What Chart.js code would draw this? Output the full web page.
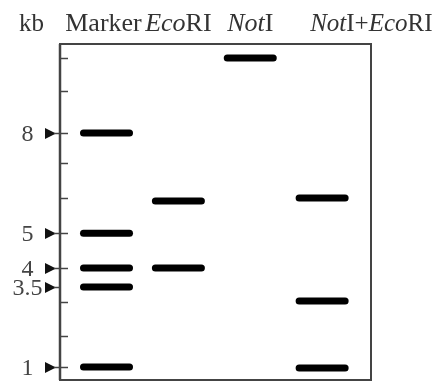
<!DOCTYPE html>
<html>
<head>
<meta charset="utf-8">
<script src="https://cdn.jsdelivr.net/npm/chart.js@4"></script>
<style>
  html, body { margin: 0; padding: 0; background: #fff; overflow: hidden; }
  #wrap { position: relative; width: 437px; height: 382px; }
</style>
</head>
<body>
<div id="wrap"><canvas id="gel"></canvas></div>
<script>
// lanes of the gel, left to right
const lanes = ['Marker', 'EcoRI', 'NotI', 'NotI+EcoRI'];
// band migration per lane (0 = top of gel, 100 = bottom)
const markerBands = [26.5, 56.3, 66.7, 72.3, 96.1];
const ecoriBands = [46.7, 66.7];
const notiBands = [4.2];
const notiEcoriBands = [45.8, 76.5, 96.4];
// ladder sizes in kb, same order as markerBands
const markerSizes = ['8', '5', '4', '3.5', '1'];
// ruler marks on the left edge of the gel
const rulerTicks = [4.2, 14.0, 26.5, 35.4, 45.8, 56.3, 66.7, 76.8, 86.9, 96.1];

const allBands = [markerBands, ecoriBands, notiBands, notiEcoriBands];
const serif = "'Liberation Serif', 'DejaVu Serif', serif";
const font = (size, italic) => (italic ? 'italic ' : '') + size + 'px ' + serif;

// genus abbreviations in italics, the rest upright
function drawLabel(ctx, text, x, y, align, size) {
    const parts = text.split(/(Eco|Not)/).filter(Boolean).map(t => ({ t: t, it: t === 'Eco' || t === 'Not' }));
    let w = 0;
    parts.forEach(p => { ctx.font = font(size, p.it); p.w = ctx.measureText(p.t).width; w += p.w; });
    let cx = align === 'center' ? x - w / 2 : x;
    ctx.textAlign = 'left';
    parts.forEach(p => { ctx.font = font(size, p.it); ctx.fillText(p.t, cx, y); cx += p.w; });
}

const gelFrame = {
    id: 'gelFrame',
    beforeDatasetsDraw(chart) {
        chart.ctx.save();
        chart.ctx.lineCap = 'round';
    },
    afterDatasetsDraw(chart) {
        chart.ctx.restore();
    },
    afterDraw(chart) {
        const ctx = chart.ctx;
        const a = chart.chartArea;
        const x = chart.scales.x;
        const y = chart.scales.y;
        ctx.save();

        ctx.strokeStyle = '#444';
        ctx.lineWidth = 2;
        ctx.strokeRect(a.left, a.top, a.right - a.left, a.bottom - a.top);
        // left edge of the gel is a bit heavier
        ctx.lineWidth = 2.5;
        ctx.beginPath();
        ctx.moveTo(a.left, a.top);
        ctx.lineTo(a.left, a.bottom);
        ctx.stroke();

        ctx.lineWidth = 1.5;
        rulerTicks.forEach(v => {
            const py = Math.round(y.getPixelForValue(v)) + 0.5;
            ctx.beginPath();
            ctx.moveTo(a.left, py);
            ctx.lineTo(a.left + 8, py);
            ctx.stroke();
        });

        markerBands.forEach((v, i) => {
            const py = Math.round(y.getPixelForValue(v)) + 0.5;
            ctx.fillStyle = '#111';
            ctx.beginPath();
            ctx.moveTo(a.left - 15, py - 5.5);
            ctx.lineTo(a.left - 4, py);
            ctx.lineTo(a.left - 15, py + 5.5);
            ctx.closePath();
            ctx.fill();
            ctx.beginPath();
            ctx.moveTo(a.left - 6, py);
            ctx.lineTo(a.left, py);
            ctx.stroke();

            ctx.fillStyle = '#444';
            ctx.font = font(24, false);
            ctx.textAlign = 'center';
            ctx.textBaseline = 'middle';
            ctx.fillText(markerSizes[i], a.left - 32.5, py + 1);
        });

        ctx.fillStyle = '#333';
        ctx.textBaseline = 'alphabetic';
        ctx.font = font(25, false);
        ctx.textAlign = 'left';
        ctx.fillText('kb', 19, 31);
        lanes.forEach((name, i) => {
            const px = x.getPixelForValue(i + 1);
            if (i === lanes.length - 1) {
                drawLabel(ctx, name, px - 12, 31, 'left', 25);
            } else {
                drawLabel(ctx, name, px - (i === 0 ? 3 : 0), 31, 'center', 26);
            }
        });
        ctx.restore();
    }
};

new Chart(document.getElementById('gel'), {
    type: 'scatter',
    data: {
        datasets: allBands.map((bands, i) => ({
            label: lanes[i],
            data: bands.map(v => ({ x: i + 1, y: v })),
            pointStyle: 'line',
            radius: 23,
            hoverRadius: 23,
            borderWidth: 7,
            borderColor: '#000',
            backgroundColor: '#000'
        }))
    },
    options: {
        responsive: true,
        maintainAspectRatio: false,
        animation: false,
        devicePixelRatio: 1,
        layout: {
            autoPadding: false,
            padding: { left: 60, top: 44, right: 66, bottom: 2 }
        },
        scales: {
            x: { type: 'linear', display: false, min: 0.353, max: 4.68 },
            y: { type: 'linear', display: false, min: 0, max: 100, reverse: true }
        },
        plugins: {
            legend: { display: false },
            tooltip: { enabled: false }
        }
    },
    plugins: [gelFrame]
});
</script>
</body>
</html>
